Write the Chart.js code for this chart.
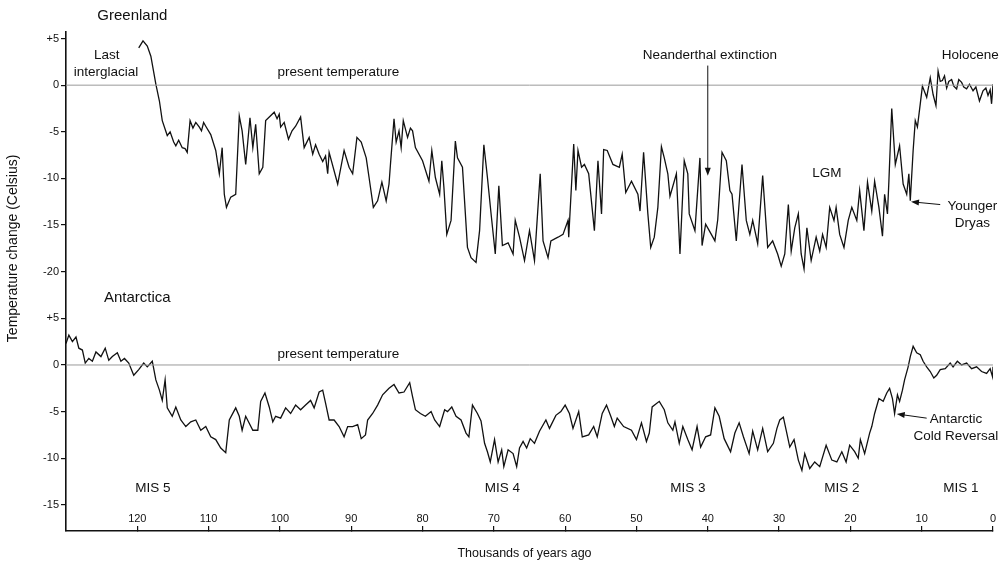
<!DOCTYPE html>
<html>
<head>
<meta charset="utf-8">
<title>Greenland and Antarctica temperature change</title>
<script src="https://cdn.jsdelivr.net/npm/chart.js@4.4.1/dist/chart.umd.min.js"></script>
<style>
  html, body { margin: 0; padding: 0; background: #fff; }
  #wrap { width: 1005px; height: 564px; position: relative; }
</style>
</head>
<body>
<div id="wrap"><canvas id="chart"></canvas></div>
<script>
// thousands of years ago / temperature change vs present (Celsius)
const greenlandAge = [
    119.8, 119.2, 118.6, 118.1, 117.4, 116.9, 116.5, 115.8, 115.4, 114.9,
    114.6, 114.2, 113.7, 113.3, 113.0, 112.6, 112.2, 111.8, 111.3, 111.0,
    110.7, 110.4, 109.7, 109.0, 108.5, 108.1, 107.8, 107.5, 106.9, 106.2,
    105.7, 105.3, 104.8, 104.2, 103.8, 103.4, 102.9, 102.4, 102.0, 100.8,
    100.4, 100.1, 99.9, 99.4, 98.8, 98.3, 97.8, 97.1, 96.6, 95.9,
    95.4, 95.0, 94.5, 94.0, 93.6, 93.3, 93.1, 91.9, 91.0, 90.3,
    89.8, 89.2, 88.6, 87.9, 87.5, 86.9, 86.3, 85.7, 85.1, 84.7,
    84.5, 84.0, 83.7, 83.3, 83.0, 82.7, 82.1, 81.7, 81.4, 81.0,
    80.0, 79.1, 78.7, 78.2, 77.6, 77.3, 77.0, 76.6, 76.0, 75.4,
    75.1, 74.4, 73.7, 73.2, 72.5, 72.0, 71.4, 70.9, 70.4, 69.8,
    69.3, 68.8, 68.0, 67.3, 67.0, 66.4, 65.7, 65.0, 64.3, 63.5,
    63.1, 62.4, 62.0, 61.0, 60.3, 59.6, 59.5, 58.8, 58.5, 58.2,
    57.7, 57.3, 56.7, 55.9, 55.4, 54.9, 54.6, 54.1, 53.3, 52.4,
    52.0, 51.5, 50.7, 49.8, 49.5, 49.0, 48.4, 48.0, 47.5, 47.0,
    46.5, 46.1, 45.6, 45.3, 44.4, 43.9, 43.3, 42.8, 42.6, 41.8,
    41.1, 40.8, 40.3, 39.5, 39.0, 38.6, 38.0, 37.4, 36.9, 36.6,
    36.0, 35.2, 34.6, 34.1, 33.7, 33.0, 32.3, 31.6, 30.9, 30.2,
    29.7, 29.2, 28.7, 28.3, 27.8, 27.3, 26.9, 26.5, 26.1, 25.5,
    24.8, 24.3, 23.9, 23.4, 22.9, 22.3, 22.0, 21.5, 20.9, 20.3,
    19.8, 19.1, 18.7, 18.1, 17.6, 17.0, 16.6, 16.0, 15.5, 15.2,
    14.8, 14.6, 14.2, 13.7, 13.1, 12.6, 12.1, 11.8, 11.6, 11.2,
    10.9, 10.6, 10.2, 9.9, 9.3, 8.8, 8.4, 8.0, 7.7, 7.4,
    7.1, 6.8, 6.5, 6.2, 5.8, 5.5, 5.1, 4.8, 4.4, 4.1,
    3.7, 3.3, 2.8, 2.4, 1.9, 1.4, 1.0, 0.7, 0.4, 0.2,
    0
];
const greenlandTemp = [
    4.0, 4.75, 4.2, 3.1, 0.1, -1.7, -3.8, -5.4, -5.0, -6.1,
    -6.5, -5.9, -6.7, -6.8, -7.2, -3.8, -4.6, -4.0, -4.5, -4.9,
    -4.0, -4.4, -5.3, -7.0, -9.5, -6.7, -11.7, -13.1, -12.0, -11.7,
    -3.3, -4.9, -8.5, -3.5, -6.7, -4.2, -9.5, -8.8, -3.8, -2.9,
    -3.6, -3.1, -4.5, -4.0, -5.8, -4.9, -4.4, -3.4, -6.7, -5.6,
    -7.4, -6.4, -7.4, -8.2, -7.6, -9.5, -7.2, -10.6, -7.0, -8.8,
    -9.5, -5.6, -6.1, -7.8, -9.9, -13.1, -12.4, -10.4, -12.4, -10.6,
    -8.5, -3.6, -6.1, -4.9, -6.7, -3.8, -5.6, -4.6, -4.9, -6.7,
    -8.1, -10.3, -7.0, -9.9, -11.7, -8.1, -11.0, -16.0, -14.5, -6.0,
    -7.8, -8.8, -17.4, -18.5, -19.0, -15.6, -6.4, -9.9, -13.7, -18.1,
    -10.8, -17.2, -16.9, -18.1, -14.5, -16.3, -18.8, -15.6, -18.8, -9.5,
    -16.7, -18.5, -16.7, -16.3, -16.0, -14.5, -16.3, -6.3, -11.3, -7.0,
    -8.8, -8.5, -9.5, -15.6, -8.1, -13.8, -6.9, -7.0, -8.5, -8.8,
    -7.4, -11.5, -10.3, -11.7, -13.5, -7.2, -13.8, -17.4, -16.3, -13.1,
    -6.6, -7.8, -9.5, -11.9, -9.5, -18.1, -8.1, -9.5, -13.8, -15.6,
    -7.8, -17.2, -14.9, -16.0, -16.7, -14.4, -7.2, -8.1, -11.3, -11.7,
    -16.7, -8.5, -14.5, -16.0, -14.5, -17.0, -9.7, -17.4, -16.7, -18.1,
    -19.4, -18.1, -12.8, -17.8, -15.3, -13.8, -18.1, -19.7, -15.3, -18.8,
    -16.3, -17.8, -16.0, -17.4, -13.1, -14.5, -13.1, -16.0, -17.4, -14.5,
    -13.1, -14.5, -11.3, -15.6, -10.4, -13.5, -10.3, -13.1, -16.2, -11.7,
    -13.8, -10.3, -2.5, -8.5, -6.5, -10.6, -11.7, -9.5, -12.4, -7.0,
    -3.8, -4.5, -2.0, -0.1, -1.3, 0.8, -1.0, -2.2, 1.5, 0.4,
    0.5, 1.0, -0.3, 0.4, 0.6, -0.1, -0.4, 0.6, 0.3, -0.2,
    -0.4, 0.1, -0.6, -0.2, -1.7, -0.6, -0.3, -1.1, -0.5, -2.0,
    0.1
];

const antarcticaAge = [130, 129.6, 129.1, 128.6, 128.2, 127.7, 127.3, 126.8, 126.3, 125.8, 125.1, 124.5, 124.0, 123.5, 122.8, 122.3, 121.8, 121.2, 120.5, 119.8, 119.1, 118.6, 117.9, 117.4, 116.9, 116.5, 116.1, 115.8, 115.1, 114.6, 113.9, 113.2, 112.5, 111.8, 111.1, 110.4, 109.7, 109.0, 108.3, 107.6, 107.1, 106.2, 105.7, 105.3, 104.8, 103.8, 103.1, 102.7, 102.1, 101.5, 101.0, 100.6, 99.9, 99.2, 98.5, 97.8, 97.1, 96.4, 95.7, 95.2, 94.5, 94.0, 93.6, 93.1, 92.4, 91.7, 91.0, 90.5, 89.8, 89.1, 88.6, 88.0, 87.7, 87.0, 86.3, 85.6, 84.7, 84.0, 83.3, 82.6, 81.8, 81.4, 81.0, 80.3, 79.6, 78.8, 78.3, 77.6, 76.9, 76.5, 75.9, 75.3, 74.6, 73.9, 73.5, 73.0, 72.3, 71.8, 71.3, 70.9, 70.5, 69.9, 69.4, 68.9, 68.6, 68.0, 67.3, 66.8, 66.4, 65.9, 65.4, 64.9, 64.3, 63.6, 62.7, 62.2, 61.3, 60.6, 60.0, 59.4, 58.9, 58.1, 57.6, 56.7, 56.0, 55.5, 54.8, 54.2, 53.6, 53.1, 52.7, 51.8, 50.7, 50.0, 49.3, 48.6, 48.2, 47.8, 46.8, 46.1, 45.6, 44.9, 44.6, 44.0, 43.5, 42.8, 42.2, 41.5, 41.0, 40.3, 39.6, 39.0, 38.4, 37.7, 36.8, 36.2, 35.6, 35.0, 34.2, 33.7, 33.0, 32.3, 31.6, 30.8, 30.3, 29.9, 29.4, 29.0, 28.5, 27.9, 27.3, 26.8, 26.4, 25.7, 25.0, 24.3, 23.4, 22.6, 21.9, 21.2, 20.6, 20.1, 19.4, 18.9, 18.6, 18.0, 17.3, 17.0, 16.6, 16.0, 15.4, 14.9, 14.5, 14.1, 13.8, 13.4, 13.1, 12.7, 12.4, 11.9, 11.6, 11.2, 10.7, 10.2, 9.8, 9.3, 8.8, 8.3, 7.9, 7.4, 6.7, 6.0, 5.6, 5.0, 4.4, 3.7, 3.0, 2.3, 1.6, 0.9, 0.4, 0.05, 0];
const antarcticaTemp = [2.3, 3.2, 2.5, 3.0, 1.8, 1.6, 0.2, 0.7, 0.4, 1.4, 0.9, 1.8, 0.5, 0.9, 1.3, 0.4, 0.7, 0.2, -1.1, -0.5, 0.2, -0.2, 0.4, -1.6, -2.7, -3.8, -1.6, -4.6, -5.5, -4.5, -5.9, -6.6, -6.1, -5.9, -7.0, -6.6, -7.7, -8.0, -8.9, -9.4, -5.9, -4.6, -5.5, -7.0, -5.5, -7.0, -7.0, -3.9, -3.0, -4.5, -6.1, -5.5, -5.7, -4.6, -5.2, -4.3, -4.8, -4.3, -3.8, -4.6, -2.9, -2.7, -4.1, -5.9, -5.9, -6.6, -7.7, -6.6, -6.6, -6.4, -7.9, -7.5, -5.9, -5.2, -4.3, -3.2, -2.5, -2.1, -3.0, -2.9, -1.9, -3.4, -4.8, -5.2, -5.5, -5.0, -5.9, -6.6, -4.8, -5.0, -4.5, -5.5, -5.9, -7.3, -7.7, -4.3, -5.2, -6.0, -8.4, -9.3, -10.4, -8.0, -10.4, -9.1, -10.9, -9.1, -9.5, -10.9, -8.9, -8.2, -8.9, -7.9, -8.4, -7.1, -5.9, -6.8, -5.4, -5.0, -4.3, -5.2, -6.8, -5.0, -7.7, -7.5, -6.6, -7.7, -5.2, -4.3, -5.5, -6.6, -5.7, -6.6, -7.0, -8.0, -6.2, -8.2, -7.3, -4.5, -3.9, -4.8, -6.2, -7.0, -6.1, -8.4, -6.6, -8.0, -9.1, -6.6, -8.8, -7.7, -7.5, -4.6, -5.5, -7.9, -9.3, -7.3, -6.2, -7.7, -9.5, -7.1, -9.1, -6.8, -9.3, -8.4, -6.8, -5.9, -5.6, -7.0, -8.8, -8.0, -10.2, -11.3, -9.5, -11.1, -10.4, -10.9, -8.6, -10.2, -10.4, -9.3, -10.4, -8.6, -9.3, -10.0, -8.0, -9.5, -7.3, -6.6, -5.2, -3.6, -3.9, -3.0, -2.5, -3.6, -5.2, -3.2, -3.9, -2.7, -1.6, -0.2, 0.9, 2.0, 1.3, 1.1, 0.4, -0.2, -0.7, -1.4, -1.1, -0.5, -0.4, 0.2, -0.2, 0.4, 0.0, 0.2, -0.4, -0.2, -0.7, -0.9, -0.4, -1.3, -0.2];

// Antarctica is drawn on the same axis, shifted down by 30 degrees
const antarcticaOffset = -30;

const yTickValues = [5, 0, -5, -10, -15, -20, -25, -30, -35, -40, -45];
const yTickLabels = ['+5', '0', '-5', '-10', '-15', '-20', '+5', '0', '-5', '-10', '-15'];
const xTickValues = [120, 110, 100, 90, 80, 70, 60, 50, 40, 30, 20, 10, 0];
const xTickLabels = ['120', '110', '100', '90', '80', '70', '60', '50', '40', '30', '20', '10', '0'];
const xLabelLevel = -46.5; // x tick labels sit just above the axis line

const FONT = '"Liberation Sans", Arial, Helvetica, sans-serif';

// text placed in data coordinates (x = kyr ago, y = shifted temperature)
const notes = [
    { text: 'Greenland', x: 120.7, y: 7.4, size: 15 },
    { text: 'Last', x: 124.3, y: 3.25 },
    { text: 'interglacial', x: 124.4, y: 1.35 },
    { text: 'present temperature', x: 91.8, y: 1.4 },
    { text: 'Neanderthal extinction', x: 39.7, y: 3.25 },
    { text: 'Holocene', x: 3.2, y: 3.25 },
    { text: 'LGM', x: 23.3, y: -9.4 },
    { text: 'Younger', x: 2.9, y: -13.0 },
    { text: 'Dryas', x: 2.9, y: -14.8 },
    { text: 'Antarctica', x: 120.0, y: -22.8, size: 15 },
    { text: 'present temperature', x: 91.8, y: -28.8 },
    { text: 'Antarctic', x: 5.2, y: -35.8 },
    { text: 'Cold Reversal', x: 5.2, y: -37.6 },
    { text: 'MIS 5', x: 117.8, y: -43.2 },
    { text: 'MIS 4', x: 68.8, y: -43.2 },
    { text: 'MIS 3', x: 42.8, y: -43.2 },
    { text: 'MIS 2', x: 21.2, y: -43.2 },
    { text: 'MIS 1', x: 4.5, y: -43.2 },
    { text: 'Thousands of years ago', x: 65.7, y: -50.2, size: 12.5 },
    { text: 'Temperature change (Celsius)', x: 137.4, y: -17.5, size: 14, rotate: true }
];

const arrows = [
    { from: [40, 2.1], to: [40, -9.7] },
    { from: [7.4, -12.8], to: [11.5, -12.5] },
    { from: [9.3, -35.7], to: [13.5, -35.25] }
];

function toPoints(ages, temps, offset) {
    return ages.map((a, i) => ({ x: a, y: temps[i] + offset }));
}

function drawArrow(ctx, x1, y1, x2, y2) {
    const ang = Math.atan2(y2 - y1, x2 - x1);
    const len = 8, half = 3;
    ctx.beginPath();
    ctx.moveTo(x1, y1);
    ctx.lineTo(x2 - Math.cos(ang) * len * 0.8, y2 - Math.sin(ang) * len * 0.8);
    ctx.stroke();
    ctx.beginPath();
    ctx.moveTo(x2, y2);
    ctx.lineTo(x2 - Math.cos(ang) * len - Math.sin(ang) * half, y2 - Math.sin(ang) * len + Math.cos(ang) * half);
    ctx.lineTo(x2 - Math.cos(ang) * len + Math.sin(ang) * half, y2 - Math.sin(ang) * len - Math.cos(ang) * half);
    ctx.closePath();
    ctx.fill();
}

const notesPlugin = {
    id: 'notes',
    afterDraw(chart) {
        const { ctx, scales: { x, y } } = chart;
        ctx.save();
        ctx.fillStyle = '#111';
        ctx.strokeStyle = '#111';
        ctx.lineWidth = 1;
        ctx.textAlign = 'center';
        ctx.textBaseline = 'middle';

        // x tick labels (inside the plot, above the axis)
        ctx.font = `11px ${FONT}`;
        xTickValues.forEach((v, i) => {
            ctx.fillText(xTickLabels[i], x.getPixelForValue(v), y.getPixelForValue(xLabelLevel));
        });

        notes.forEach(n => {
            ctx.font = `${n.size || 13.5}px ${FONT}`;
            const px = x.getPixelForValue(n.x);
            const py = y.getPixelForValue(n.y);
            if (n.rotate) {
                ctx.save();
                ctx.translate(px, py);
                ctx.rotate(-Math.PI / 2);
                ctx.fillText(n.text, 0, 0);
                ctx.restore();
            } else {
                ctx.fillText(n.text, px, py);
            }
        });
        arrows.forEach(a => {
            drawArrow(ctx,
                x.getPixelForValue(a.from[0]), y.getPixelForValue(a.from[1]),
                x.getPixelForValue(a.to[0]), y.getPixelForValue(a.to[1]));
        });
        ctx.restore();
    }
};

const lineStyle = { borderColor: '#111', borderWidth: 1.3, pointRadius: 0, tension: 0, fill: false };
const zeroStyle = { borderColor: '#9a9a9a', borderWidth: 1, pointRadius: 0, fill: false };

new Chart(document.getElementById('chart'), {
    type: 'line',
    data: {
        datasets: [
            { ...zeroStyle, label: 'Greenland present', data: [{ x: 0, y: 0 }, { x: 130, y: 0 }] },
            { ...zeroStyle, label: 'Antarctica present', data: [{ x: 0, y: antarcticaOffset }, { x: 130, y: antarcticaOffset }] },
            { ...lineStyle, label: 'Greenland', data: toPoints(greenlandAge, greenlandTemp, 0) },
            { ...lineStyle, label: 'Antarctica', data: toPoints(antarcticaAge, antarcticaTemp, antarcticaOffset) }
        ]
    },
    options: {
        responsive: true,
        maintainAspectRatio: false,
        animation: false,
        layout: { padding: { top: 32, right: 12, left: 0, bottom: 0 } },
        plugins: { legend: { display: false }, tooltip: { enabled: false } },
        scales: {
            x: {
                type: 'linear',
                reverse: true,
                min: 0,
                max: 130,
                afterBuildTicks: s => { s.ticks = xTickValues.slice().sort((a, b) => a - b).map(v => ({ value: v })); },
                afterFit: s => { s.height = 33; },
                border: { display: true, color: '#111', width: 1.6 },
                grid: { display: true, drawOnChartArea: false, drawTicks: true, tickLength: -5, color: '#111', lineWidth: 1.2 },
                ticks: { display: false, autoSkip: false }
            },
            y: {
                min: -47.8,
                max: 5.7,
                afterBuildTicks: s => { s.ticks = yTickValues.slice().sort((a, b) => a - b).map(v => ({ value: v })); },
                afterFit: s => { s.width = 66; },
                border: { display: true, color: '#111', width: 1.6 },
                grid: { display: true, drawOnChartArea: false, drawTicks: true, tickLength: 5, color: '#111', lineWidth: 1.2 },
                ticks: {
                    autoSkip: false,
                    padding: 2,
                    color: '#111',
                    font: { family: FONT, size: 11 },
                    callback: v => yTickLabels[yTickValues.indexOf(v)]
                }
            }
        }
    },
    plugins: [notesPlugin]
});
</script>
</body>
</html>
